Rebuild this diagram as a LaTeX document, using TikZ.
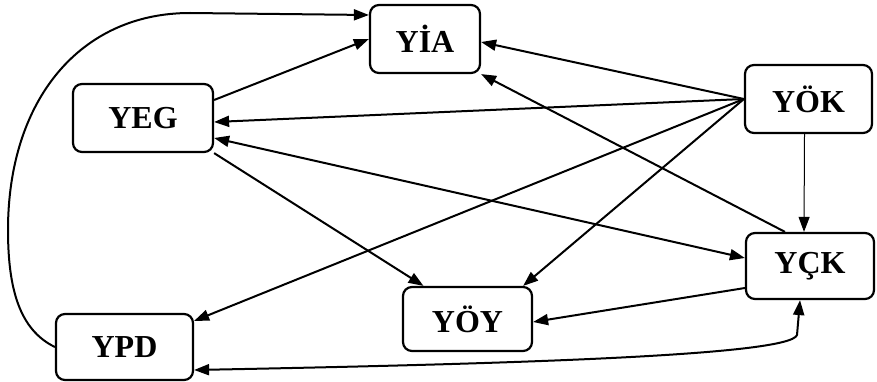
\documentclass[tikz,border=0pt]{standalone}
\usepackage{fontspec}
\setmainfont{Liberation Serif}
\usetikzlibrary{arrows.meta,calc}
\begin{document}
\begin{tikzpicture}[x=1pt,y=-1pt,
  box/.style={draw,line width=2.2pt,rounded corners=9pt,inner sep=0pt,
    font=\fontsize{32}{36}\selectfont\bfseries},
  tip/.tip={Triangle[length=15pt,width=11pt]},
  link/.style={line width=2pt,-tip},
  thinlink/.style={line width=1pt,-tip},
  bothways/.style={line width=2pt,tip-tip}]
\useasboundingbox (0,0) rectangle (877,382);

% boxes
\node[box,minimum width=110pt,minimum height=68pt] (yia) at (425,39)   {YİA};
\node[box,minimum width=140pt,minimum height=68pt] (yeg) at (143,118)  {YEG};
\node[box,minimum width=127pt,minimum height=68pt] (yok) at (808.5,99) {YÖK};
\node[box,minimum width=128pt,minimum height=66pt] (yck) at (810,266)  {YÇK};
\node[box,minimum width=129pt,minimum height=64pt] (yoy) at (467.5,319){YÖY};
\node[box,minimum width=137pt,minimum height=66pt] (ypd) at (124.5,347){YPD};

% connectors
\draw[link] ([yshift=18pt]yeg.east) -- (yia.west);
\draw[link] (ypd.west) .. controls (20,330) and (8,290) .. (8,230)
  .. controls (8,100) and (80,13) .. (190,13) -- ([yshift=24pt]yia.west);
\draw[link] (yok.west) -- ([yshift=-3pt]yia.east);
\draw[link] ([xshift=-25pt]yck.north) -- (yia.south east);
\draw[link] (yok.west) -- ([yshift=-4pt]yeg.east);
\draw[link] (yok.west) -- ([yshift=-8pt]ypd.north east);
\draw[link] (yok.west) -- ([xshift=-10pt]yoy.north east);
\draw[thinlink] ([xshift=-4pt]yok.south) -- ([xshift=-6pt]yck.north);
\draw[bothways] ([yshift=-20pt]yeg.east) -- ([yshift=8pt]yck.west);
\draw[link] (yeg.south east) -- ([xshift=-44pt]yoy.north);
\draw[link] ([yshift=-22pt]yck.west) -- ([yshift=-3pt]yoy.east);
\draw[bothways] ([yshift=-23pt]ypd.east) .. controls (500,364) and (790,356)
  .. (797,335) -- ([xshift=-10pt]yck.south);
\end{tikzpicture}
\end{document}
